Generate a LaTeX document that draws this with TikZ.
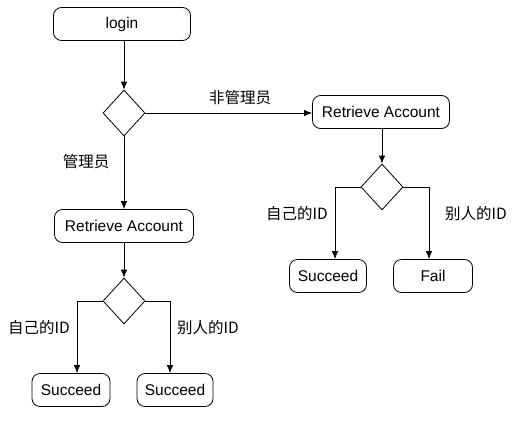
\documentclass[tikz,border=0pt]{standalone}
\usepackage{fontspec}
\setmainfont{Liberation Sans}
\newfontfamily\cjk{Noto Sans CJK SC}
\usetikzlibrary{shapes.geometric,arrows.meta}

\begin{document}
\begin{tikzpicture}[x=1pt,y=-1pt, line width=0.8pt,
  every node/.style={font=\fontsize{15.5}{18}\selectfont},
  actbox/.style={draw, rounded corners=8pt, minimum height=33pt, inner sep=0pt},
  choice/.style={draw, diamond, minimum width=42pt, minimum height=46pt, inner sep=0pt},
  flow/.style={-{Latex[length=8pt,width=6.5pt]}}]
\useasboundingbox (0,0) rectangle (516,426);
\node [actbox, minimum width=137pt] (login) at (122,24) {login};
\node [choice] (d1) at (124,113) {};
\node [actbox, minimum width=139pt] (ra) at (124,226) {Retrieve Account};
\node [choice] (d3) at (124,301) {};
\node [actbox, minimum width=78pt] (ls) at (71,390) {Succeed};
\node [actbox, minimum width=76pt] (rs) at (175,390) {Succeed};
\node [actbox, minimum width=137pt] (rb) at (381,112) {Retrieve Account};
\node [choice] (d2) at (382,187) {};
\node [actbox, minimum width=77pt] (ok) at (328,276) {Succeed};
\node [actbox, minimum width=79pt] (fail) at (433,276) {Fail};
% labels
\node (l1) at (86,162) {\cjk 管理员};
\node (l2) at (240,98) {\cjk 非管理员};
\node (l3) at (297,214) {\cjk 自己的ID};
\node (l4) at (476,214) {\cjk 别人的ID};
\node (l5) at (39,328) {\cjk 自己的ID};
\node (l6) at (208,328) {\cjk 别人的ID};
% connectors
\draw [flow] (login.south -| d1.north) -- (d1.north);
\draw [flow] (d1.south) -- (ra.north);
\draw [flow] (d1.east) -- (d1.east -| rb.west);
\draw [flow] (ra.south) -- (d3.north);
\draw [flow] (d3.west) -| ([xshift=6pt]ls.north);
\draw [flow] (d3.east) -| ([xshift=-5pt]rs.north);
\draw [flow] (rb.south -| d2.north) -- (d2.north);
\draw [flow] (d2.west) -| ([xshift=7pt]ok.north);
\draw [flow] (d2.east) -| ([xshift=-4pt]fail.north);
\end{tikzpicture}
\end{document}
